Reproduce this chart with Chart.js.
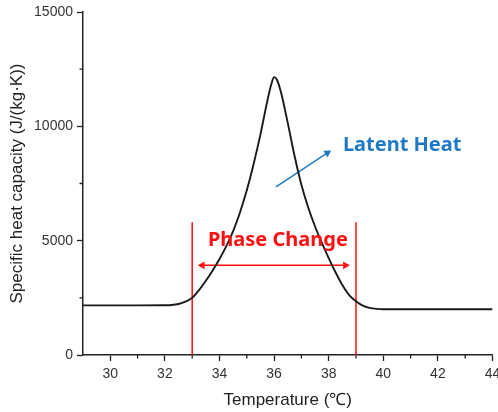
<!DOCTYPE html>
<html>
<head>
<meta charset="utf-8">
<script src="https://cdn.jsdelivr.net/npm/chart.js@4"></script>
<style>
  body { margin: 0; background: #fff; overflow: hidden; }
  canvas { display: block; }
</style>
</head>
<body>
<canvas id="chart" width="498" height="412"></canvas>
<script>
// Specific heat capacity curve
const temps = [29, 30, 31, 32, 32.25, 32.5, 32.75, 33, 33.25, 33.5, 33.75, 34, 34.25, 34.5, 34.75, 35, 35.25, 35.5, 35.75, 35.9, 36, 36.1, 36.25, 36.5, 36.75, 37, 37.25, 37.5, 37.75, 38, 38.25, 38.5, 38.75, 39, 39.25, 39.5, 39.75, 40, 41, 42, 43, 44];
const cp = [2170, 2170, 2170, 2175, 2185, 2230, 2330, 2500, 2840, 3250, 3700, 4200, 4760, 5420, 6230, 7200, 8350, 9650, 11100, 11850, 12150, 12050, 11500, 10150, 8700, 7450, 6450, 5620, 4900, 4240, 3620, 3060, 2620, 2350, 2160, 2060, 2015, 2000, 2000, 2000, 2000, 2000];

// tick values
const xMinor = [31, 33, 35, 37, 39, 41, 43];
const yMinor = [2500, 7500, 12500];

// annotation values
const phaseBounds = [33, 39];
const phaseLineTop = 5800;
const phaseArrowX = [33.37, 38.61];
const phaseArrowY = 3920;
const latentArrowX = [36.07, 37.95];
const latentArrowY = [7347, 8838];

const axisColor = '#222';
const red = '#ff1010';
const blue = '#1f7ac6';

Chart.defaults.font.family = "'Liberation Sans', Arial, sans-serif";
Chart.defaults.color = '#333';

// minor tick marks, shorter than the major ones
const minorTicks = {
  id: 'minorTicks',
  afterDraw(chart) {
    const { ctx, scales: { x, y } } = chart;
    ctx.save();
    ctx.strokeStyle = axisColor;
    ctx.lineWidth = 1.3;
    ctx.beginPath();
    xMinor.forEach(v => {
      const px = x.getPixelForValue(v);
      ctx.moveTo(px, x.top);
      ctx.lineTo(px, x.top + 3.5);
    });
    yMinor.forEach(v => {
      const py = y.getPixelForValue(v);
      ctx.moveTo(y.right, py);
      ctx.lineTo(y.right - 3.5, py);
    });
    ctx.stroke();
    ctx.restore();
  }
};

// text labels placed in data coordinates
const labels = {
  id: 'labels',
  afterDatasetsDraw(chart) {
    const { ctx, scales: { x, y } } = chart;
    ctx.save();
    ctx.font = "bold 20px 'Noto Sans', sans-serif";
    ctx.textBaseline = 'middle';
    ctx.fillStyle = red;
    ctx.textAlign = 'center';
    ctx.fillText('Phase Change', x.getPixelForValue(36.14), y.getPixelForValue(5029));
    ctx.fillStyle = blue;
    ctx.textAlign = 'left';
    ctx.fillText('Latent Heat', x.getPixelForValue(38.52), y.getPixelForValue(9184));
    ctx.restore();
  }
};

new Chart(document.getElementById('chart'), {
  type: 'line',
  data: {
    datasets: [
      {
        data: temps.map((t, i) => ({ x: t, y: cp[i] })),
        borderColor: '#1a1a1a',
        borderWidth: 1.9,
        pointRadius: 0,
        cubicInterpolationMode: 'monotone'
      },
      {
        data: [{ x: phaseBounds[0], y: 0 }, { x: phaseBounds[0], y: phaseLineTop }],
        borderColor: red,
        borderWidth: 1.5,
        pointRadius: 0
      },
      {
        data: [{ x: phaseBounds[1], y: 0 }, { x: phaseBounds[1], y: phaseLineTop }],
        borderColor: red,
        borderWidth: 1.5,
        pointRadius: 0
      },
      {
        data: [{ x: phaseArrowX[0], y: phaseArrowY }, { x: phaseArrowX[1], y: phaseArrowY }],
        borderColor: red,
        backgroundColor: red,
        borderWidth: 1.5,
        pointStyle: 'triangle',
        pointRadius: 4.5,
        pointBorderWidth: 0,
        pointRotation: [-90, 90]
      },
      {
        data: [{ x: latentArrowX[0], y: latentArrowY[0] }, { x: latentArrowX[1], y: latentArrowY[1] }],
        borderColor: blue,
        backgroundColor: blue,
        borderWidth: 1.5,
        pointStyle: 'triangle',
        pointRadius: [0, 4.5],
        pointBorderWidth: 0,
        pointRotation: [0, 57]
      }
    ]
  },
  options: {
    responsive: false,
    animation: false,
    layout: { padding: { top: 12, right: 5.5, bottom: 0, left: 0 } },
    plugins: { legend: { display: false }, tooltip: { enabled: false } },
    scales: {
      x: {
        type: 'linear',
        min: 29,
        max: 44,
        border: { display: true, color: axisColor, width: 1.5 },
        grid: {
          drawOnChartArea: false,
          tickLength: 6,
          tickWidth: 1.3,
          tickColor: c => (c.tick && c.tick.value % 2 === 0) ? axisColor : 'rgba(0,0,0,0)'
        },
        ticks: {
          stepSize: 1,
          padding: 5,
          font: { size: 14 },
          color: '#333',
          maxRotation: 0,
          autoSkip: false,
          callback: v => (v % 2 === 0 ? v : '')
        },
        title: {
          display: true,
          text: 'Temperature (℃)',
          font: { size: 17 },
          color: '#222',
          padding: { top: 0, bottom: 1 }
        },
        afterFit(scale) {
          scale.height = 57;
          scale.paddingLeft = 0;
          scale.paddingRight = 0;
        }
      },
      y: {
        min: 0,
        max: 15000,
        border: { display: true, color: axisColor, width: 1.5 },
        grid: {
          drawOnChartArea: false,
          tickLength: 6,
          tickWidth: 1.3,
          tickColor: c => (c.tick && c.tick.value % 5000 === 0) ? axisColor : 'rgba(0,0,0,0)'
        },
        ticks: {
          stepSize: 2500,
          padding: 4,
          font: { size: 14 },
          color: '#333',
          autoSkip: false,
          callback: v => (v % 5000 === 0 ? v : '')
        },
        title: {
          display: true,
          text: 'Specific heat capacity (J/(kg·K))',
          font: { size: 17 },
          color: '#222',
          padding: { top: 7, bottom: 0 }
        },
        afterFit(scale) {
          scale.width = 83;
          scale.paddingTop = 0;
          scale.paddingBottom = 0;
        }
      }
    }
  },
  plugins: [minorTicks, labels]
});
</script>
</body>
</html>
